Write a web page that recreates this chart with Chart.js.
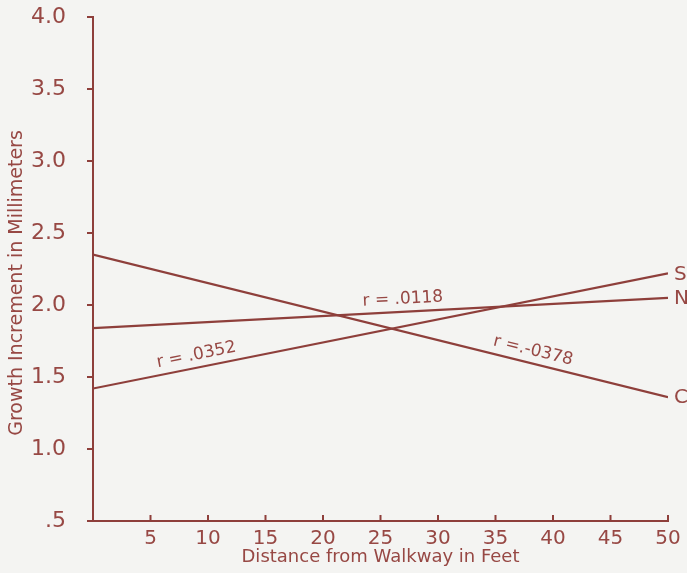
<!DOCTYPE html>
<html>
<head>
<meta charset="utf-8">
<script src="https://cdn.jsdelivr.net/npm/chart.js@4"></script>
<style>
  html, body { margin: 0; padding: 0; background: #f4f4f2; }
  #wrap { width: 687px; height: 573px; }
</style>
</head>
<body>
<div id="wrap"><canvas id="growthChart" width="687" height="573"></canvas></div>
<script>
const distance = [0, 50];
const seriesNames = ["S", "N", "C"];
const sValues = [1.42, 2.22];
const nValues = [1.84, 2.05];
const cValues = [2.35, 1.36];
const rLabels = ["r = .0352", "r = .0118", "r =.-0378"];
const xTicks = [5, 10, 15, 20, 25, 30, 35, 40, 45, 50];
const yTicks = [0.5, 1.0, 1.5, 2.0, 2.5, 3.0, 3.5, 4.0];

const INK = "#8e3f3b";
const TEXT = "#974844";
const FONT = "'DejaVu Sans', sans-serif";

function toPoints(values) {
  return distance.map((d, i) => ({ x: d, y: values[i] }));
}

// background, inward x ticks, axis titles, end letters and r labels
const decorations = {
  id: "decorations",
  beforeDraw(chart) {
    const ctx = chart.ctx;
    ctx.save();
    ctx.fillStyle = "#f4f4f2";
    ctx.fillRect(0, 0, chart.width, chart.height);
    ctx.restore();
  },
  afterDatasetsDraw(chart, args, opts) {
    const ctx = chart.ctx;
    const xs = chart.scales.x;
    const ys = chart.scales.y;
    ctx.save();
    ctx.strokeStyle = INK;
    ctx.lineWidth = 2;
    xTicks.forEach(t => {
      const px = xs.getPixelForValue(t);
      ctx.beginPath();
      ctx.moveTo(px, ys.bottom);
      ctx.lineTo(px, ys.bottom - 6);
      ctx.stroke();
    });

    // axis titles
    ctx.fillStyle = TEXT;
    ctx.font = "18px " + FONT;
    ctx.textAlign = "center";
    ctx.textBaseline = "middle";
    ctx.fillText("Distance from Walkway in Feet", (xs.left + xs.right) / 2, 557);
    ctx.save();
    ctx.translate(17, 283);
    ctx.rotate(-Math.PI / 2);
    ctx.font = "19px " + FONT;
    ctx.fillText("Growth Increment in Millimeters", 0, 0);
    ctx.restore();

    chart.data.datasets.forEach((ds, i) => {
      const pts = ds.data;
      const x0 = xs.getPixelForValue(pts[0].x), y0 = ys.getPixelForValue(pts[0].y);
      const x1 = xs.getPixelForValue(pts[1].x), y1 = ys.getPixelForValue(pts[1].y);

      // letter at the right end
      ctx.font = "20px " + FONT;
      ctx.textAlign = "left";
      ctx.textBaseline = "middle";
      ctx.fillText(seriesNames[i], x1 + 6, y1 + 1);

      // r label along the line
      const at = opts.labelAt[i];
      const px = xs.getPixelForValue(at);
      const py = ys.getPixelForValue(pts[0].y + (pts[1].y - pts[0].y) * (at - pts[0].x) / (pts[1].x - pts[0].x));
      const ang = Math.atan2(y1 - y0, x1 - x0);
      ctx.save();
      ctx.translate(px, py);
      ctx.rotate(ang);
      ctx.font = "17px " + FONT;
      ctx.textAlign = "center";
      ctx.textBaseline = "bottom";
      ctx.fillText(rLabels[i], 0, -4);
      ctx.restore();
    });
    ctx.restore();
  }
};

new Chart(document.getElementById("growthChart"), {
  type: "line",
  data: {
    datasets: [
      { label: seriesNames[0], data: toPoints(sValues) },
      { label: seriesNames[1], data: toPoints(nValues) },
      { label: seriesNames[2], data: toPoints(cValues) }
    ].map(ds => ({ ...ds, borderColor: INK, borderWidth: 2.2, pointRadius: 0, tension: 0, fill: false }))
  },
  options: {
    responsive: false,
    animation: false,
    layout: { padding: { top: 17, right: 19, left: 0, bottom: 0 } },
    plugins: {
      legend: { display: false },
      tooltip: { enabled: false },
      decorations: { labelAt: [9.2, 27, 38] }
    },
    scales: {
      x: {
        type: "linear",
        min: 0,
        max: 50,
        afterBuildTicks: s => { s.ticks = xTicks.map(v => ({ value: v })); },
        afterFit: s => { s.height = 52; s.paddingLeft = 0; s.paddingRight = 0; },
        ticks: { color: TEXT, font: { family: FONT, size: 20 }, padding: 6, maxRotation: 0 },
        grid: { display: true, drawOnChartArea: false, drawTicks: false },
        border: { color: INK, width: 2 }
      },
      y: {
        min: 0.5,
        max: 4,
        afterBuildTicks: s => { s.ticks = yTicks.map(v => ({ value: v })); },
        afterFit: s => { s.width = 93; s.paddingTop = 0; s.paddingBottom = 0; },
        ticks: {
          color: TEXT,
          font: { family: FONT, size: 22 },
          padding: 21,
          callback: v => (v === 0.5 ? ".5" : v.toFixed(1))
        },
        grid: { drawOnChartArea: false, drawTicks: true, tickLength: 6, color: INK, lineWidth: 2 },
        border: { color: INK, width: 2 }
      }
    }
  },
  plugins: [decorations]
});
</script>
</body>
</html>
